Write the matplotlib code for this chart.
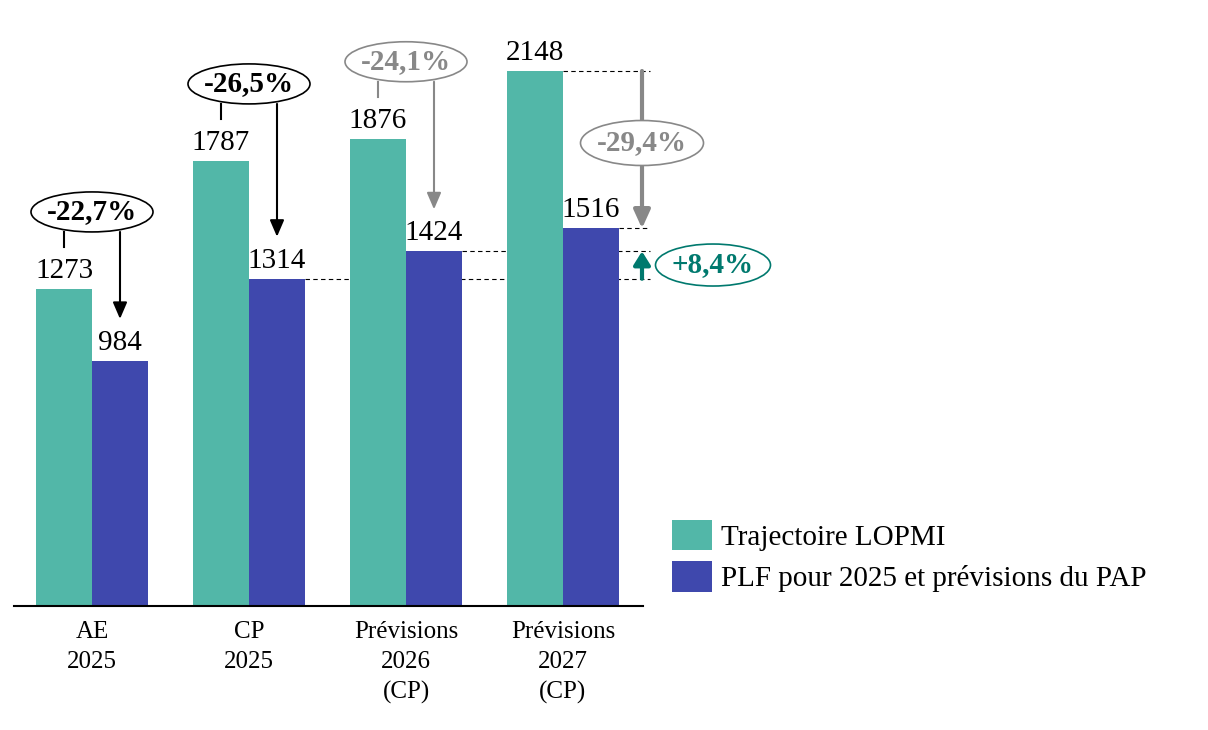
import matplotlib
matplotlib.use('Agg')
import matplotlib.pyplot as plt
from matplotlib.patches import Ellipse, FancyArrowPatch
import numpy as np

# ---- data ----
categories = ['AE\n2025', 'CP\n2025', 'Prévisions\n2026\n(CP)', 'Prévisions\n2027\n(CP)']
lopmi = [1273, 1787, 1876, 2148]
plf = [984, 1314, 1424, 1516]
legend_labels = ['Trajectoire LOPMI', 'PLF pour 2025 et prévisions du PAP']
pct_labels = ['-22,7%', '-26,5%', '-24,1%']
pct_2027 = '-29,4%'
growth_label = '+8,4%'

TEAL = '#52B7A8'
BLUE = '#3F48AD'
GRAY = '#888888'
DTEAL = '#00796E'

plt.rcParams['font.family'] = ['Liberation Serif', 'DejaVu Serif']

W, H = 1208, 730
fig = plt.figure(figsize=(W / 100, H / 100), dpi=100)
ax = fig.add_axes([14 / W, (H - 606) / H, (643 - 14) / W, (606 - 20) / H])

SX = 157.0                 # px per x unit
SY = (606 - 71) / 2148.0   # px per y unit
def dx(px):
    return px / SX
def dy(px):
    return px / SY

x = np.arange(len(categories))
bw = dx(56)
b1 = ax.bar(x - bw / 2, lopmi, bw, color=TEAL, zorder=2, label=legend_labels[0])
b2 = ax.bar(x + bw / 2, plf, bw, color=BLUE, zorder=2, label=legend_labels[1])
ax.set_xlim(dx(14 - 92), dx(643 - 92))
ax.set_ylim(0, dy(606 - 20))

for s in ['top', 'right', 'left']:
    ax.spines[s].set_visible(False)
ax.spines['bottom'].set_linewidth(1.5)
ax.spines['bottom'].set_zorder(3)
ax.set_yticks([])
ax.set_xticks(x)
ax.set_xticklabels(categories, fontsize=18, linespacing=1.45)
ax.tick_params(axis='x', length=0, pad=11)

# value labels
for xi, v in zip(x - bw / 2, lopmi):
    ax.annotate(str(v), (xi, v), xytext=(0, 8), textcoords='offset points',
                ha='center', va='baseline', fontsize=21)
for xi, v in zip(x + bw / 2, plf):
    ax.annotate(str(v), (xi, v), xytext=(0, 8), textcoords='offset points',
                ha='center', va='baseline', fontsize=21)

def arrow(p0, p1, color, lw, hl, hw):
    a = FancyArrowPatch(p0, p1, arrowstyle=f'-|>,head_length={hl},head_width={hw}',
                        mutation_scale=1, lw=lw, color=color, shrinkA=0, shrinkB=0,
                        zorder=4, clip_on=False)
    ax.add_patch(a)

def ellipse(cx, cy, w, h, ec, text, tc):
    e = Ellipse((cx, cy), dx(w), dy(h), facecolor='white', edgecolor=ec, lw=1.2,
                zorder=5, clip_on=False)
    ax.add_patch(e)
    ax.text(cx, cy, text, ha='center', va='center', fontsize=21, fontweight='bold',
            color=tc, zorder=6, clip_on=False)

# percentage callouts for the first three groups
cols = ['black', 'black', GRAY]
for i, (lab, c) in enumerate(zip(pct_labels, cols)):
    top = lopmi[i]
    cy = top + dy(77)
    ellipse(x[i], cy, 122, 40, c, lab, c)
    # small tick toward the LOPMI label
    ax.plot([x[i] - bw / 2, x[i] - bw / 2], [cy - dy(20), top + dy(42)], color=c,
            lw=1.5, zorder=4, clip_on=False)
    # arrow down toward the PLF value
    arrow((x[i] + bw / 2, cy - dy(20)), (x[i] + bw / 2, plf[i] + dy(42)), c, 1.5, 10, 4.3)

# dashed reference lines
xr = dx(650 - 92)
dash = dict(color='black', lw=0.8, ls=(0, (4, 3)), zorder=1, clip_on=False)
ax.plot([x[3], xr], [lopmi[3], lopmi[3]], **dash)
ax.plot([x[3] + bw, xr], [plf[3], plf[3]], **dash)
ax.plot([x[2] + bw, xr], [plf[2], plf[2]], **dash)
ax.plot([x[1] + bw, xr], [plf[1], plf[1]], **dash)

# 2027 gap arrow
xa = dx(642 - 92)
arrow((xa, lopmi[3]), (xa, plf[3]), GRAY, 3.0, 11, 5)
ellipse(xa, lopmi[3] - dy(72), 123, 45, GRAY, pct_2027, GRAY)

# growth arrow
arrow((xa, plf[1]), (xa, plf[2]), DTEAL, 3.0, 8, 5)
ellipse(dx(713 - 92), (plf[1] + plf[2]) / 2, 115, 42, DTEAL, growth_label, DTEAL)

# legend
fig.legend(handles=[b1, b2], labels=legend_labels, loc='upper left',
           bbox_to_anchor=(672 / W, 1 - 520 / H), frameon=False, fontsize=21,
           borderpad=0, handlelength=1.37, handleheight=1.23, handletextpad=0.3,
           labelspacing=0.35, borderaxespad=0)

fig.savefig('out.png', dpi=100)
